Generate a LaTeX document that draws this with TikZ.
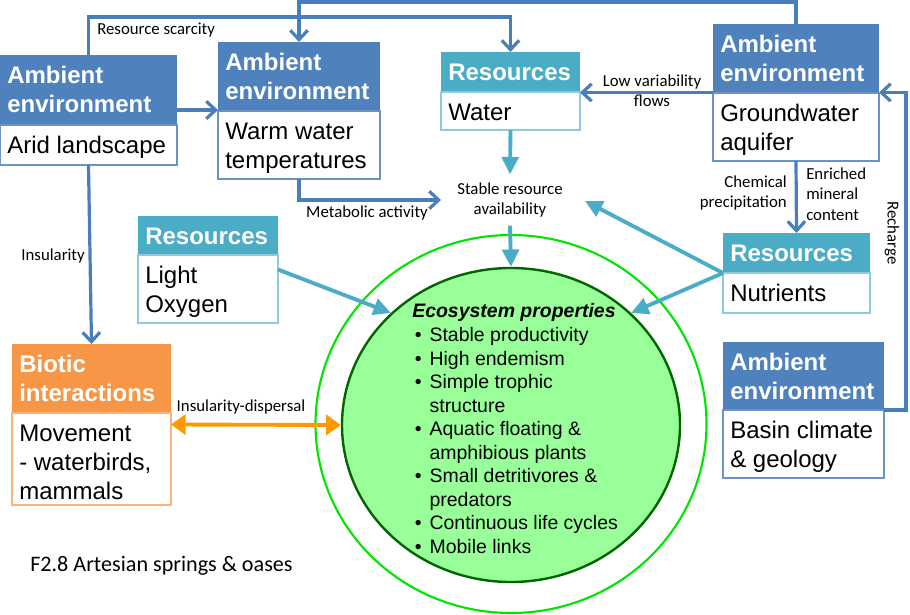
\documentclass[tikz,border=0pt]{standalone}
\usepackage{fontspec}
\setmainfont{Liberation Sans}
\newfontfamily\lblfont{Carlito}
\usetikzlibrary{arrows.meta,shapes.geometric,fit,calc}
\definecolor{amb}{HTML}{4F81BD}
\definecolor{ambline}{HTML}{6A94C8}
\definecolor{res}{HTML}{4BACC6}
\definecolor{resline}{HTML}{8ECCDD}
\definecolor{bio}{HTML}{F79646}
\definecolor{bioline}{HTML}{F9B27A}
\definecolor{arrblue}{HTML}{4A7EBB}
\definecolor{arrteal}{HTML}{4BACC6}
\definecolor{arrorange}{HTML}{FF9900}
\definecolor{ecofill}{HTML}{99FF99}
\definecolor{ecoline}{HTML}{006600}
\definecolor{outergreen}{HTML}{00E600}
\tikzset{
 hdrtxt/.style={inner sep=0pt, text=white, font=\fontsize{18}{21.75}\selectfont\bfseries},
 bodytxt/.style={inner sep=0pt, text=black, font=\fontsize{18}{21.75}\selectfont},
 ecotxt/.style={inner sep=0pt, text=black, font=\fontsize{14.6}{17.6}\selectfont},
 lbl/.style={inner sep=0pt, font=\lblfont\fontsize{12.6}{15.3}\selectfont, align=center},
 barrow/.style={draw=arrblue, line width=2.4pt, -{Straight Barb[length=7pt,width=13pt]}},
 tarrow/.style={draw=arrteal, line width=2.9pt, -{Triangle[length=13pt,width=12.5pt]}},
 oarrow/.style={draw=arrorange, line width=2.9pt, {Triangle[length=11pt,width=15pt]}-{Triangle[length=11pt,width=15pt]}},
}
\newcommand{\mybox}[9]{%
 \fill[#7] (#2,#3) rectangle (#5,#4);
 \draw[#7line, line width=1.2pt] (#2,#4) rectangle (#5,#6);
 \node[fit={(#2,#3)(#5,#6)}, inner sep=0pt, outer sep=0pt] (#1) {};
 \node[hdrtxt, anchor=base west] at ({#2+7},{#3+28}) {\begin{tabular}[t]{@{}l@{}}#8\end{tabular}};
 \node[bodytxt, anchor=base west] at ({#2+7},{#4+28}) {\begin{tabular}[t]{@{}l@{}}#9\end{tabular}};
}
\newcommand{\itm}{\makebox[13pt][l]{\hspace{2pt}\textbullet}}
\begin{document}
\begin{tikzpicture}[x=0.75pt,y=-0.75pt]
\useasboundingbox (0,0) rectangle (910,614);
% boxes
\mybox{arid}{0}{55}{125}{177}{165}{amb}{Ambient\\environment}{Arid landscape}
\mybox{warm}{218}{42}{111}{380}{179}{amb}{Ambient\\environment}{Warm water\\temperatures}
\mybox{water}{441}{52}{92}{580}{130}{res}{Resources}{Water}
\mybox{gw}{713}{24}{93}{879}{161}{amb}{Ambient\\environment}{Groundwater\\aquifer}
\mybox{lo}{138}{216}{255}{278}{323}{res}{Resources}{Light\\Oxygen}
\mybox{bio}{12}{344}{413}{171}{505}{bio}{Biotic\\interactions}{Movement\\- waterbirds,\\mammals}
\mybox{nut}{723}{233}{273}{870}{313}{res}{Resources}{Nutrients}
\mybox{basin}{723}{342}{410}{884}{478}{amb}{Ambient\\environment}{Basin climate\\\& geology}
% ecosystem circles
\node[draw=outergreen, line width=1.6pt, ellipse, minimum width=293.25pt, minimum height=283.5pt, inner sep=0pt] (outer) at (511,424) {};
\node[draw=ecoline, fill=ecofill, line width=1.8pt, ellipse, minimum width=253.5pt, minimum height=235.5pt, inner sep=0pt] (eco) at (511,425) {};
\node[ecotxt, anchor=base west] (ecot) at (412,317) {\begin{tabular}[t]{@{}l@{}}
\textbf{\textit{Ecosystem properties}}\\[1pt]
\itm Stable productivity\\
\itm High endemism\\
\itm Simple trophic\\
\hspace{13pt}structure\\
\itm Aquatic floating \&\\
\hspace{13pt}amphibious plants\\
\itm Small detritivores \&\\
\hspace{13pt}predators\\
\itm Continuous life cycles\\
\itm Mobile links
\end{tabular}};
% labels
\node[lbl] (avail) at (510,200) {Stable resource\\availability};
\node[lbl, anchor=west] at (97,30) {Resource scarcity};
\node[lbl] at (367,213) {Metabolic activity};
\node[lbl, anchor=east] at (85,256) {Insularity};
\node[lbl] at (652,91) {Low variability\\flows};
\node[lbl, align=right, anchor=east] at (787,193) {Chemical\\precipitation};
\node[lbl, align=left, anchor=west] at (806,194) {Enriched\\mineral\\content};
\node[lbl, rotate=-90] at (892,233) {Recharge};
\node[lbl] at (241,407) {Insularity-dispersal};
\node[lbl, font=\lblfont\fontsize{16.6}{19}\selectfont, anchor=west] at (30,566) {F2.8 Artesian springs \& oases};
\coordinate (availR) at (585,201);
\coordinate (metabEnd) at (441,200);
% blue connectors
\draw[barrow] (arid.east) -- (arid.east -| warm.west);
\draw[barrow] (arid.north) -- (arid.north |- 0,17) -| (water.north);
\draw[barrow] (gw.north) -- (gw.north |- 0,2) -| (warm.north);
\draw[barrow] (warm.south) |- (metabEnd);
\draw[barrow] (arid.south) -- (bio.north);
\draw[barrow] (gw.west) -- (gw.west -| water.east);
\draw[barrow] (gw.south) -- (nut.north);
\draw[barrow] (basin.east) -- ++(22,0) |- (gw.east);
% teal connectors
\draw[tarrow] (water.south) -- ($(avail.north)+(0,-8)$);
\draw[tarrow] ($(avail.south)+(0,8)$) -- (eco.north);
\draw[tarrow] (nut.west) -- (availR);
\draw[tarrow] (nut.west) -- (eco.43);
\draw[tarrow] (lo.east) -- (eco.137.7);
% orange connector
\draw[oarrow] (bio.east) -- (eco.west);
\end{tikzpicture}
\end{document}
